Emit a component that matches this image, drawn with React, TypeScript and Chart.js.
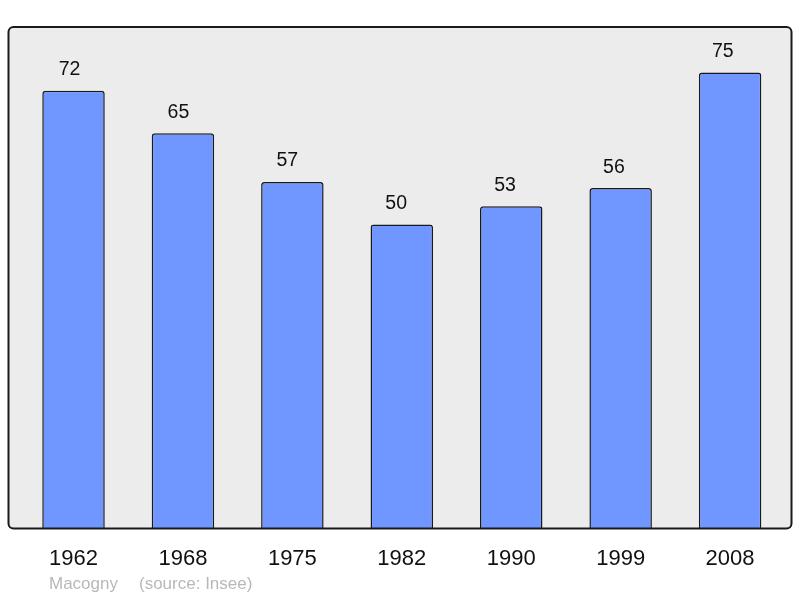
import React, { useEffect, useRef } from "react";
import { Chart, registerables } from "chart.js";

Chart.register(...registerables);

const years = ["1962", "1968", "1975", "1982", "1990", "1999", "2008"];
const population = [72, 65, 57, 50, 53, 56, 75];
const townName = "Macogny";
const sourceText = "(source: Insee)";

const framePlugin = {
  id: "frame",
  beforeDatasetsDraw(chart: any) {
    const { ctx, chartArea } = chart;
    const x0 = chartArea.left - 10.3;
    const x1 = chartArea.right + 6.7;
    const y0 = chartArea.top;
    const y1 = chartArea.bottom;
    ctx.save();
    ctx.beginPath();
    ctx.roundRect(x0, y0, x1 - x0, y1 - y0, 5);
    ctx.fillStyle = "#ececec";
    ctx.fill();
    ctx.restore();
  },
  afterDatasetsDraw(chart: any) {
    const { ctx, chartArea } = chart;
    const x0 = chartArea.left - 10.3;
    const x1 = chartArea.right + 6.7;
    const y0 = chartArea.top;
    const y1 = chartArea.bottom;
    ctx.save();
    ctx.beginPath();
    ctx.roundRect(x0, y0, x1 - x0, y1 - y0, 5);
    ctx.lineWidth = 2;
    ctx.strokeStyle = "#1a1a1a";
    ctx.stroke();

    // value labels
    const meta = chart.getDatasetMeta(0);
    ctx.font = '19.5px "Liberation Sans", Arial, sans-serif';
    ctx.fillStyle = "#111";
    ctx.textAlign = "center";
    ctx.textBaseline = "alphabetic";
    meta.data.forEach((bar: any, i: number) => {
      ctx.fillText(String(population[i]), bar.x - 4 - 0.55 * i, bar.y - 15.5);
    });

    // footer
    ctx.font = '17px "Liberation Sans", Arial, sans-serif';
    ctx.fillStyle = "#b8b8b8";
    ctx.textAlign = "left";
    ctx.fillText(townName, 49, 589);
    ctx.fillText(sourceText, 139, 589);
    ctx.restore();
  },
};

export default function App() {
  const ref = useRef<HTMLCanvasElement>(null);
  useEffect(() => {
    document.body.style.margin = "0";
    const chart = new Chart(ref.current!, {
      type: "bar",
      data: {
        labels: years,
        datasets: [
          {
            data: population,
            backgroundColor: "#7096ff",
            borderColor: "#1a1a1a",
            borderWidth: 1.5,
            borderSkipped: "bottom",
            borderRadius: { topLeft: 3, topRight: 3, bottomLeft: 0, bottomRight: 0 },
            categoryPercentage: 1,
            barPercentage: 0.571,
          },
        ],
      },
      options: {
        responsive: false,
        animation: false,
        layout: { padding: { top: 27, left: 18.8, right: 15.2, bottom: 9.2 } },
        plugins: { legend: { display: false }, tooltip: { enabled: false } },
        scales: {
          x: {
            grid: { display: false, drawTicks: false },
            border: { display: false },
            ticks: {
              padding: 17,
              color: "#111",
              font: { size: 22, family: '"Liberation Sans", Arial, sans-serif' },
              maxRotation: 0,
            },
          },
          y: { display: false, min: 0, max: 82.5 },
        },
      },
      plugins: [framePlugin],
    });
    return () => chart.destroy();
  }, []);
  return (
    <div style={{ position: "absolute", left: 0, top: 0, width: 800, height: 598, background: "#fff" }}>
      <canvas ref={ref} width={800} height={598} />
    </div>
  );
}
